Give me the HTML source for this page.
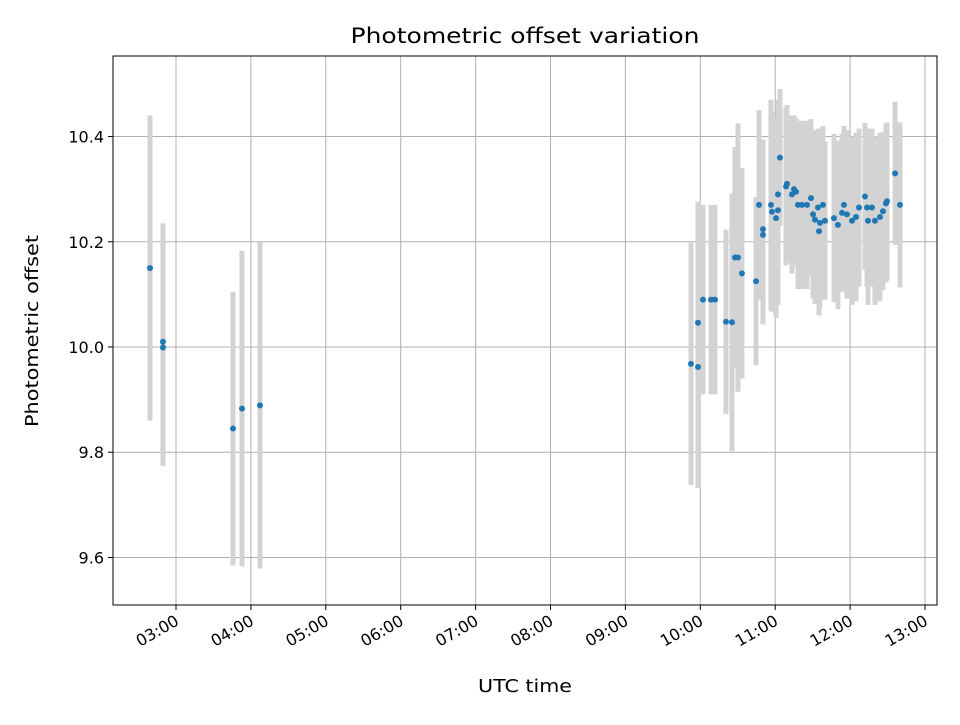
<!DOCTYPE html>
<html><head><meta charset="utf-8"><style>
body{margin:0;background:#fff;font-family:"Liberation Sans","DejaVu Sans",sans-serif}
svg text{font-family:"DejaVu Sans","Liberation Sans",sans-serif}
</style></head><body>
<svg id="c" width="960" height="720" xmlns="http://www.w3.org/2000/svg">
<rect width="960" height="720" fill="#fff"/>
<text x="525" y="43" text-anchor="middle" font-size="21" textLength="349" lengthAdjust="spacingAndGlyphs">Photometric offset variation</text>
<text x="525" y="692" text-anchor="middle" font-size="18" textLength="94" lengthAdjust="spacingAndGlyphs">UTC time</text>
<text transform="translate(38,331) rotate(-90)" text-anchor="middle" font-size="18" textLength="192" lengthAdjust="spacingAndGlyphs">Photometric offset</text>
<g id="grid"></g><g id="bars"></g><g id="pts"></g><g id="ticks"></g>
<rect x="113" y="56" width="824" height="549" fill="none" stroke="#000" stroke-width="1"/>
</svg>
<script>
const times=[2.653,2.826,2.826,3.761,3.881,4.121,9.876,9.969,9.969,10.036,10.143,10.196,10.343,10.423,10.463,10.503,10.556,10.744,10.784,10.837,10.837,10.944,10.957,11.011,11.037,11.037,11.064,11.144,11.158,11.224,11.251,11.278,11.304,11.358,11.425,11.478,11.505,11.531,11.571,11.585,11.598,11.638,11.665,11.785,11.838,11.892,11.918,11.958,12.025,12.079,12.119,12.199,12.226,12.239,12.292,12.332,12.399,12.439,12.479,12.493,12.600,12.666];
const offsets=[10.15,10.01,9.999,9.845,9.883,9.889,9.968,9.962,10.046,10.09,10.09,10.09,10.048,10.047,10.17,10.17,10.14,10.125,10.27,10.224,10.213,10.27,10.257,10.245,10.26,10.29,10.36,10.305,10.31,10.29,10.30,10.295,10.27,10.27,10.27,10.283,10.252,10.242,10.265,10.22,10.236,10.27,10.24,10.245,10.232,10.255,10.27,10.252,10.24,10.247,10.265,10.286,10.265,10.24,10.265,10.24,10.247,10.258,10.273,10.277,10.33,10.27];
const errors=[0.29,0.225,0.225,0.26,0.30,0.31,0.23,0.23,0.23,0.18,0.18,0.18,0.175,0.245,0.21,0.255,0.2,0.16,0.18,0.17,0.17,0.2,0.19,0.19,0.18,0.18,0.13,0.15,0.15,0.15,0.14,0.14,0.16,0.16,0.16,0.15,0.16,0.16,0.15,0.16,0.16,0.15,0.15,0.16,0.16,0.15,0.15,0.16,0.16,0.16,0.15,0.14,0.15,0.16,0.15,0.16,0.16,0.15,0.15,0.15,0.136,0.157];
const xTickLabels=["03:00","04:00","05:00","06:00","07:00","08:00","09:00","10:00","11:00","12:00","13:00"];
const xTickHours=[3,4,5,6,7,8,9,10,11,12,13];
const yTickLabels=["9.6","9.8","10.0","10.2","10.4"];
const yTickValues=[9.6,9.8,10.0,10.2,10.4];
const NS="http://www.w3.org/2000/svg";
const X=h=>176+(h-3)*74.9;
const Y=v=>347-(v-10)*526.2;
function mk(t,a,p){const e=document.createElementNS(NS,t);for(const k in a)e.setAttribute(k,a[k]);document.getElementById(p).appendChild(e);return e;}
xTickHours.forEach((h,i)=>{
 const x=X(h);
 let g=mk('line',{x1:x,x2:x,y1:56,y2:605,stroke:'#b0b0b0','stroke-width':1},'grid');
 
 
 let t=mk('line',{x1:x,x2:x,y1:605,y2:610,stroke:'#000'},'ticks');
 
 
 let l=mk('text',{x:x+4,y:624,'font-size':16,'text-anchor':'end',transform:`rotate(-30 ${x+4} 624)`},'ticks');
 l.textContent=xTickLabels[i];
 
 
});
yTickValues.forEach((v,i)=>{
 const y=Y(v);
 let g=mk('line',{x1:113,x2:937,y1:y,y2:y,stroke:'#b0b0b0','stroke-width':1},'grid');
 
 
 let t=mk('line',{x1:108,x2:113,y1:y,y2:y,stroke:'#000'},'ticks');
 
 
 let l=mk('text',{x:104,y:y+6,'font-size':16,'text-anchor':'end'},'ticks');
 l.textContent=yTickLabels[i];
 
 
});
times.forEach((h,i)=>{
 const x=X(h);
 let b=mk('line',{x1:x,x2:x,y1:Y(offsets[i]+errors[i]),y2:Y(offsets[i]-errors[i]),stroke:'#d3d3d3','stroke-width':5},'bars');
 
 
 let p=mk('circle',{cx:x,cy:Y(offsets[i]),r:3,fill:'#1f77b4'},'pts');
 
 
});
</script>
</body></html>
